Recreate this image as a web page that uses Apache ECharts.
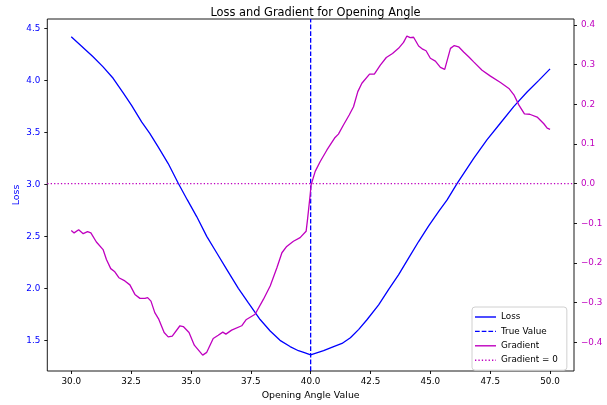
<!DOCTYPE html>
<html>
<head>
<meta charset="utf-8">
<script src="https://cdn.jsdelivr.net/npm/echarts@6/dist/echarts.min.js"></script>
<style>html,body{margin:0;padding:0;background:#fff}#c{width:607px;height:405px}</style>
</head>
<body>
<div id="c"></div>
<script>
// ---- data ----
var lossX = [30.0,30.9,31.33,31.75,32.17,32.52,32.94,33.28,33.63,34.05,34.47,34.85,35.24,35.66,36.08,36.5,36.98,37.4,37.89,38.31,38.72,39.14,39.49,39.77,40.0,40.54,40.96,41.31,41.66,42.01,42.36,42.84,43.26,43.67,44.09,44.51,44.93,45.35,45.7,46.12,46.81,47.37,47.93,48.49,49.05,49.53,50.0];
var lossY = [4.42,4.23,4.13,4.02,3.88,3.76,3.60,3.49,3.36,3.20,3.01,2.85,2.69,2.50,2.34,2.18,2.00,1.86,1.70,1.59,1.50,1.44,1.40,1.38,1.36,1.40,1.44,1.47,1.525,1.605,1.70,1.84,1.99,2.13,2.29,2.45,2.60,2.74,2.85,3.01,3.25,3.43,3.59,3.75,3.89,4.00,4.11];
var gradX = [30.0,30.12,30.31,30.5,30.68,30.82,31.05,31.33,31.47,31.65,31.82,31.99,32.24,32.45,32.66,32.87,33.08,33.19,33.33,33.49,33.66,33.88,34.05,34.22,34.54,34.68,34.92,35.14,35.49,35.66,35.93,36.14,36.33,36.46,36.70,37.12,37.30,37.68,38.03,38.31,38.59,38.80,39.00,39.28,39.56,39.81,39.87,39.98,40.02,40.19,40.40,40.68,41.0,41.16,41.37,41.61,41.79,41.97,42.14,42.46,42.66,42.91,43.16,43.42,43.67,43.88,44.02,44.16,44.30,44.51,44.68,44.82,45.0,45.21,45.42,45.60,45.66,45.84,46.0,46.18,46.39,46.60,46.81,47.16,47.51,47.93,48.28,48.49,48.70,48.93,49.15,49.46,49.74,49.88,50.0];
var gradY = [-0.118,-0.124,-0.116,-0.126,-0.121,-0.124,-0.147,-0.166,-0.191,-0.214,-0.222,-0.237,-0.245,-0.255,-0.279,-0.289,-0.289,-0.287,-0.296,-0.325,-0.342,-0.375,-0.386,-0.384,-0.358,-0.360,-0.375,-0.407,-0.432,-0.425,-0.390,-0.382,-0.374,-0.379,-0.369,-0.358,-0.343,-0.329,-0.291,-0.258,-0.212,-0.174,-0.158,-0.145,-0.136,-0.120,-0.090,-0.028,-0.003,0.031,0.056,0.085,0.115,0.125,0.148,0.173,0.194,0.232,0.253,0.276,0.276,0.299,0.318,0.328,0.341,0.356,0.372,0.368,0.369,0.347,0.339,0.335,0.316,0.309,0.293,0.288,0.286,0.341,0.348,0.345,0.332,0.320,0.307,0.286,0.271,0.255,0.240,0.224,0.198,0.176,0.175,0.168,0.151,0.140,0.137];
var trueValue = 40.0;
var gradZero = 0;
var xTicks = [30.0,32.5,35.0,37.5,40.0,42.5,45.0,47.5,50.0];
var lossTicks = [1.5,2.0,2.5,3.0,3.5,4.0,4.5];
var gradTicks = [-0.4,-0.3,-0.2,-0.1,0.0,0.1,0.2,0.3,0.4];
var xRange = [29.0, 51.0];
var lossRange = [1.205, 4.59];
var gradRange = [-0.472, 0.415];

function zip(a, b) { return a.map(function (v, i) { return [v, b[i]]; }); }
var FONT = 'DejaVu Sans';
var BLUE = '#0000ff', MAG = '#bf00bf';
var ICON_SOLID = 'path://M0,0h21v1.4h-21z';
var ICON_DASH = 'path://M0,0h4.7v1.4h-4.7zM6.7,0h4.7v1.4h-4.7zM13.4,0h4.7v1.4h-4.7zM20.1,0h0.9v1.4h-0.9z';
var ICON_DOT = 'path://M0,0h1.3v1.4h-1.3zM3.4,0h1.3v1.4h-1.3zM6.8,0h1.3v1.4h-1.3zM10.2,0h1.3v1.4h-1.3zM13.6,0h1.3v1.4h-1.3zM17,0h1.3v1.4h-1.3zM20.4,0h0.6v1.4h-0.6z';

var chart = echarts.init(document.getElementById('c'), null, {renderer: 'canvas'});
chart.setOption({
  animation: false,
  backgroundColor: '#fff',
  title: {
    text: 'Loss and Gradient for Opening Angle',
    left: 310.5, top: 3, textAlign: 'center',
    textStyle: {fontFamily: FONT, fontSize: 11.4, fontWeight: 'normal', color: '#000'}
  },
  grid: {left: 47.3, right: 33, top: 19, bottom: 33.3, show: true, borderColor: '#000', borderWidth: 0.9, backgroundColor: 'transparent'},
  legend: {
    orient: 'vertical', left: 472, top: 307,
    data: [
      {name: 'Loss', icon: ICON_SOLID},
      {name: 'True Value', icon: ICON_DASH},
      {name: 'Gradient', icon: ICON_SOLID},
      {name: 'Gradient = 0', icon: ICON_DOT}
    ],
    itemWidth: 21, itemHeight: 1.4, itemGap: 4.4,
    itemStyle: {borderWidth: 0},
    padding: [5, 9, 5, 3],
    backgroundColor: 'rgba(255,255,255,0.85)', borderColor: '#d0d0d0', borderWidth: 1, borderRadius: 3,
    textStyle: {fontFamily: FONT, fontSize: 8.8, color: '#000', lineHeight: 10}
  },
  xAxis: {
    type: 'value', min: xRange[0], max: xRange[1],
    name: 'Opening Angle Value', nameLocation: 'middle', nameGap: 20, nameMoveOverlap: false,
    nameTextStyle: {fontFamily: FONT, fontSize: 9.4, color: '#000'},
    axisLine: {show: false, onZero: false},
    axisTick: {show: true, length: 3, customValues: xTicks, lineStyle: {color: '#000', width: 0.9}},
    axisLabel: {customValues: xTicks, margin: 6, fontFamily: FONT, fontSize: 8.8, color: '#000',
      formatter: function (v) { return v.toFixed(1); }},
    splitLine: {show: false}
  },
  yAxis: [{
    type: 'value', min: lossRange[0], max: lossRange[1], position: 'left',
    name: 'Loss', nameLocation: 'middle', nameGap: 26, nameRotate: 90, nameMoveOverlap: false,
    nameTextStyle: {fontFamily: FONT, fontSize: 9.4, color: BLUE},
    axisLine: {show: false, onZero: false},
    axisTick: {show: true, length: 3, customValues: lossTicks, lineStyle: {color: '#000', width: 0.9}},
    axisLabel: {customValues: lossTicks, margin: 7, fontFamily: FONT, fontSize: 8.8, color: BLUE,
      formatter: function (v) { return v.toFixed(1); }},
    splitLine: {show: false}
  }, {
    type: 'value', min: gradRange[0], max: gradRange[1], position: 'right',
    axisLine: {show: false, onZero: false},
    axisTick: {show: true, length: 3, customValues: gradTicks, lineStyle: {color: '#000', width: 0.9}},
    axisLabel: {customValues: gradTicks, margin: 7, fontFamily: FONT, fontSize: 8.8, color: MAG,
      formatter: function (v) { return v.toFixed(1).replace('-', '\u2212'); }},
    splitLine: {show: false}
  }],
  series: [{
    name: 'Loss', type: 'line', yAxisIndex: 0, symbol: 'none', data: zip(lossX, lossY),
    color: BLUE, lineStyle: {color: BLUE, width: 1.3}, z: 2
  }, {
    name: 'True Value', type: 'line', yAxisIndex: 0, symbol: 'none',
    data: [[trueValue, lossRange[0]], [trueValue, lossRange[1]]],
    color: BLUE, lineStyle: {color: BLUE, width: 1.3, type: [4.7, 2]}, z: 2
  }, {
    name: 'Gradient', type: 'line', yAxisIndex: 1, symbol: 'none', data: zip(gradX, gradY),
    color: MAG, lineStyle: {color: MAG, width: 1.3}, z: 3
  }, {
    name: 'Gradient = 0', type: 'line', yAxisIndex: 1, symbol: 'none',
    data: [[xRange[0], gradZero], [xRange[1], gradZero]],
    color: MAG, lineStyle: {color: MAG, width: 1.3, type: [1.3, 2.1]}, z: 3
  }]
});
</script>
</body>
</html>
